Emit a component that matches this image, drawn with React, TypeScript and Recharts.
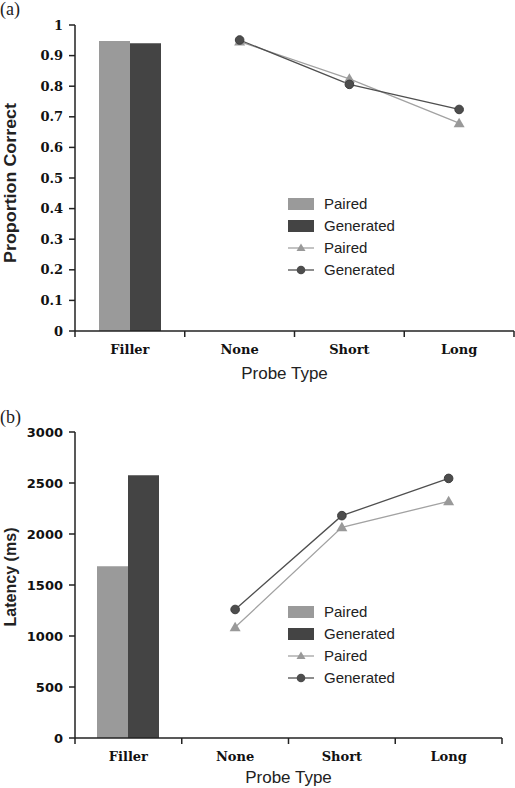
import React from 'react';
import { ComposedChart, Bar, Line, XAxis, YAxis, Legend, Label } from 'recharts';

const categories = ['Filler', 'None', 'Short', 'Long'];

const accuracyPairedBar = [0.948, null, null, null];
const accuracyGeneratedBar = [0.94, null, null, null];
const accuracyPairedLine = [null, 0.946, 0.824, 0.679];
const accuracyGeneratedLine = [null, 0.951, 0.806, 0.724];
const accuracyTicks = [0, 0.1, 0.2, 0.3, 0.4, 0.5, 0.6, 0.7, 0.8, 0.9, 1];

const latencyPairedBar = [1685, null, null, null];
const latencyGeneratedBar = [2575, null, null, null];
const latencyPairedLine = [null, 1085, 2065, 2320];
const latencyGeneratedLine = [null, 1260, 2180, 2545];
const latencyTicks = [0, 500, 1000, 1500, 2000, 2500, 3000];

const legendOrder = ['pairedBar', 'generatedBar', 'pairedLine', 'generatedLine'];

const PAIRED_BAR = '#9a9a9a';
const GENERATED_BAR = '#444444';
const PAIRED_LINE = '#a2a2a2';
const GENERATED_LINE = '#4f4f4f';

const sans = '"Liberation Sans", Arial, sans-serif';
const serif = '"DejaVu Serif", serif';

function buildRows(pb: (number | null)[], gb: (number | null)[], pl: (number | null)[], gl: (number | null)[]) {
  return categories.map((c, i) => ({
    category: c,
    pairedBar: pb[i],
    generatedBar: gb[i],
    pairedLine: pl[i],
    generatedLine: gl[i],
  }));
}

function CategoryTick(props: any) {
  const { x, y, payload, index, visibleTicksCount, width } = props;
  const half = payload?.offset ?? width / visibleTicksCount / 2;
  const last = index === visibleTicksCount - 1;
  return (
    <g>
      <line x1={x - half} x2={x - half} y1={y} y2={y + 6} stroke="#222" strokeWidth={1.5} />
      {last && <line x1={x + half} x2={x + half} y1={y} y2={y + 6} stroke="#222" strokeWidth={1.5} />}
      <text x={x} y={y + 23} textAnchor="middle" fontFamily={serif} fontWeight="bold" fontSize={13} fill="#111">
        {payload.value}
      </text>
    </g>
  );
}

function TriangleDot(props: any) {
  const { cx, cy, index } = props;
  if (cx == null || cy == null) return <g key={`t-${index}`} />;
  return (
    <path
      key={`t-${index}`}
      d={`M${cx},${cy - 5.5} L${cx + 5.5},${cy + 4} L${cx - 5.5},${cy + 4} Z`}
      fill="#999999"
    />
  );
}

function LegendContent({ payload }: any) {
  return (
    <div style={{ display: 'flex', flexDirection: 'column' }}>
      {(payload || []).map((e: any) => (
        <div key={e.dataKey} style={{ height: 22, display: 'flex', alignItems: 'center' }}>
          <svg width={26} height={14} style={{ display: 'block' }}>
            {e.type === 'rect' && <rect x={0} y={1} width={26} height={12} fill={e.color} />}
            {e.type === 'triangle' && (
              <g>
                <line x1={0} x2={26} y1={7} y2={7} stroke={PAIRED_LINE} strokeWidth={1.3} />
                <path d="M13,2.5 L17.5,10 L8.5,10 Z" fill="#999999" />
              </g>
            )}
            {e.type === 'circle' && (
              <g>
                <line x1={0} x2={26} y1={7} y2={7} stroke={GENERATED_LINE} strokeWidth={1.3} />
                <circle cx={13} cy={7} r={4.3} fill="#4d4d4d" />
              </g>
            )}
          </svg>
          <span style={{ marginLeft: 10, fontFamily: sans, fontSize: 15, color: '#222', lineHeight: '22px' }}>
            {e.value}
          </span>
        </div>
      ))}
    </div>
  );
}

function YTitle({ viewBox, text, length, dy }: any) {
  const cx = 10;
  const cy = viewBox.y + viewBox.height / 2 + dy;
  return (
    <text
      x={cx}
      y={cy}
      transform={`rotate(-90, ${cx}, ${cy})`}
      textAnchor="middle"
      dominantBaseline="central"
      fontFamily={sans}
      fontWeight="bold"
      fontSize={16}
      fill="#222"
      textLength={length}
      lengthAdjust="spacingAndGlyphs"
    >
      {text}
    </text>
  );
}

function XTitle({ viewBox, dx, dy }: any) {
  return (
    <text
      x={viewBox.x + viewBox.width / 2 + dx}
      y={viewBox.y + dy}
      textAnchor="middle"
      fontFamily={sans}
      fontSize={17}
      fill="#222"
    >
      Probe Type
    </text>
  );
}

type PanelProps = {
  rows: any[];
  height: number;
  margin: { top: number; right: number; bottom: number; left: number };
  domain: [number, number];
  ticks: number[];
  tickFont: string;
  yTitle: string;
  yTitleLength: number;
  yTitleDy: number;
  xTitleDx: number;
  xTitleDy: number;
  legendTop: number;
};

function Panel(p: PanelProps) {
  return (
    <ComposedChart width={515} height={p.height} data={p.rows} margin={p.margin} barGap={0}>
      <XAxis
        dataKey="category"
        height={50}
        tickSize={0}
        tickMargin={0}
        tickLine={false}
        axisLine={{ stroke: '#222', strokeWidth: 1.5 }}
        tick={<CategoryTick />}
        interval={0}
      >
        <Label content={(props: any) => <XTitle {...props} dx={p.xTitleDx} dy={p.xTitleDy} />} />
      </XAxis>
      <YAxis
        width={75}
        domain={p.domain}
        ticks={p.ticks}
        tickSize={6}
        tickMargin={6}
        interval={0}
        axisLine={{ stroke: '#222', strokeWidth: 1.5 }}
        tickLine={{ stroke: '#222', strokeWidth: 1.5 }}
        tick={{ fontFamily: p.tickFont, fontWeight: 'bold', fontSize: 13, fill: '#111' }}
      >
        <Label
          content={(props: any) => (
            <YTitle {...props} text={p.yTitle} length={p.yTitleLength} dy={p.yTitleDy} />
          )}
        />
      </YAxis>
      <Legend
        layout="vertical"
        align="center"
        verticalAlign="middle"
        itemSorter={(item: any) => legendOrder.indexOf(item.dataKey)}
        wrapperStyle={{ left: 288, top: p.legendTop, width: 160, right: 'auto', bottom: 'auto' }}
        content={<LegendContent />}
      />
      <Bar dataKey="pairedBar" name="Paired" fill={PAIRED_BAR} barSize={31} legendType="rect" isAnimationActive={false} />
      <Bar dataKey="generatedBar" name="Generated" fill={GENERATED_BAR} barSize={31} legendType="rect" isAnimationActive={false} />
      <Line
        dataKey="pairedLine"
        name="Paired"
        stroke={PAIRED_LINE}
        strokeWidth={1.3}
        dot={(props: any) => <TriangleDot {...props} />}
        activeDot={false}
        legendType="triangle"
        isAnimationActive={false}
      />
      <Line
        dataKey="generatedLine"
        name="Generated"
        stroke={GENERATED_LINE}
        strokeWidth={1.3}
        dot={{ r: 4.3, fill: '#4d4d4d', stroke: '#3d3d3d', strokeWidth: 1 }}
        activeDot={false}
        legendType="circle"
        isAnimationActive={false}
      />
    </ComposedChart>
  );
}

const panelLabel: React.CSSProperties = {
  position: 'absolute',
  left: 0,
  fontFamily: '"Liberation Serif", serif',
  fontSize: 18,
  color: '#222',
  lineHeight: '18px',
};

export default function App() {
  const accuracyRows = buildRows(accuracyPairedBar, accuracyGeneratedBar, accuracyPairedLine, accuracyGeneratedLine);
  const latencyRows = buildRows(latencyPairedBar, latencyGeneratedBar, latencyPairedLine, latencyGeneratedLine);
  return (
    <div style={{ position: 'absolute', left: 0, top: 0, width: 515, height: 788, background: '#fff' }}>
      <div style={{ position: 'absolute', left: 0, top: 0 }}>
        <Panel
          rows={accuracyRows}
          height={390}
          margin={{ top: 25, right: 1, bottom: 9, left: 0 }}
          domain={[0, 1]}
          ticks={accuracyTicks}
          tickFont={serif}
          yTitle="Proportion Correct"
          yTitleLength={160}
          yTitleDy={5}
          xTitleDx={-10}
          xTitleDy={48}
          legendTop={193}
        />
      </div>
      <div style={{ position: 'absolute', left: 0, top: 390 }}>
        <Panel
          rows={latencyRows}
          height={398}
          margin={{ top: 42, right: 13, bottom: 0, left: 0 }}
          domain={[0, 3000]}
          ticks={latencyTicks}
          tickFont='"DejaVu Sans", sans-serif'
          yTitle="Latency (ms)"
          yTitleLength={99}
          yTitleDy={-8}
          xTitleDx={0}
          xTitleDy={45}
          legendTop={211}
        />
      </div>
      <div style={{ ...panelLabel, top: 0 }}>(a)</div>
      <div style={{ ...panelLabel, top: 408 }}>(b)</div>
    </div>
  );
}
